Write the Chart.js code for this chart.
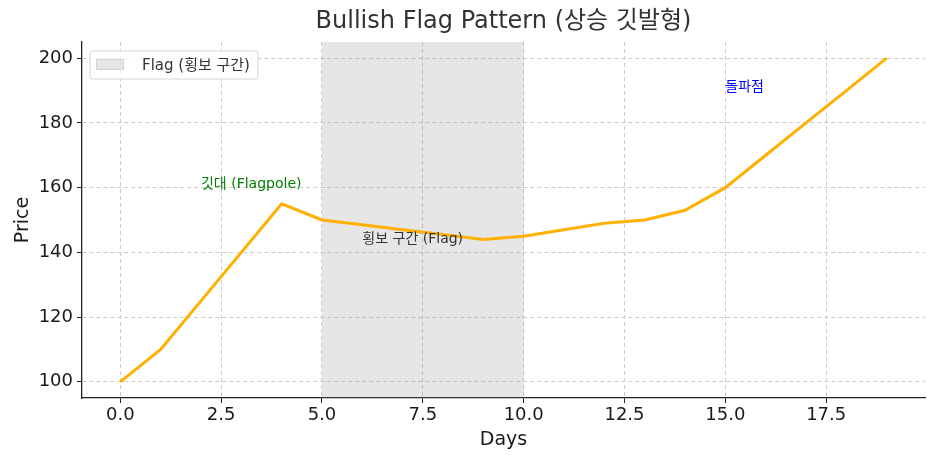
<!DOCTYPE html>
<html>
<head>
<meta charset="utf-8">
<script src="https://cdn.jsdelivr.net/npm/chart.js@4.4.1/dist/chart.umd.min.js"></script>
<style>
  html, body { margin: 0; padding: 0; background: #fff; }
  canvas { display: block; }
</style>
</head>
<body>
<canvas id="myChart" width="936" height="462"></canvas>
<script>
var FONT = "'DejaVu Sans', 'Noto Sans CJK KR', sans-serif";

// data
var days = [0, 1, 2, 3, 4, 5, 6, 7, 8, 9, 10, 11, 12, 13, 14, 15, 16, 17, 18, 19];
var prices = [100, 110, 125, 140, 155, 150, 148.5, 147, 145.5, 144, 145, 147, 149, 150, 153, 160, 170, 180, 190, 200];
var xTicks = [0, 2.5, 5, 7.5, 10, 12.5, 15, 17.5];
var yTicks = [100, 120, 140, 160, 180, 200];
var flagRange = [5, 10];
var legendLabel = 'Flag (횡보 구간)';

var noteTexts = ['깃대 (Flagpole)', '횡보 구간 (Flag)', '돌파점'];
var noteX = [2, 6, 15];
var noteY = [160, 143, 190];
var noteColors = ['#008000', '#333333', '#0000ff'];

var spanColor = 'rgba(128, 128, 128, 0.2)';

var flagSpan = {
    id: 'flagSpan',
    beforeDatasetsDraw: function (chart) {
        var c = chart.ctx, a = chart.chartArea, x = chart.scales.x;
        var x1 = x.getPixelForValue(flagRange[0]);
        var x2 = x.getPixelForValue(flagRange[1]);
        c.save();
        c.fillStyle = spanColor;
        c.fillRect(x1, a.top, x2 - x1, a.bottom - a.top);
        c.restore();
    }
};

var notes = {
    id: 'notes',
    afterDatasetsDraw: function (chart) {
        var c = chart.ctx, x = chart.scales.x, y = chart.scales.y;
        c.save();
        c.font = '14px ' + FONT;
        c.textAlign = 'left';
        c.textBaseline = 'alphabetic';
        for (var i = 0; i < noteTexts.length; i++) {
            c.fillStyle = noteColors[i];
            c.fillText(noteTexts[i], x.getPixelForValue(noteX[i]), y.getPixelForValue(noteY[i]));
        }
        c.restore();
    }
};

var legendBox = {
    id: 'legendBox',
    afterDraw: function (chart) {
        var c = chart.ctx, a = chart.chartArea;
        var left = a.left + 8, top = a.top + 9;
        c.save();
        c.font = '15px ' + FONT;
        var tw = c.measureText(legendLabel).width;
        var w = 52 + tw + 8, h = 28;
        // frame
        c.beginPath();
        c.roundRect(left, top, w, h, 3);
        c.fillStyle = 'rgba(255,255,255,0.8)';
        c.fill();
        c.strokeStyle = '#d6d6d6';
        c.lineWidth = 1;
        c.stroke();
        // patch
        c.fillStyle = spanColor;
        c.fillRect(left + 6, top + 8, 28, 11);
        c.strokeStyle = spanColor;
        c.strokeRect(left + 6.5, top + 8.5, 27, 10);
        // label
        c.fillStyle = '#333';
        c.textBaseline = 'middle';
        c.fillText(legendLabel, left + 52, top + h / 2 + 1);
        c.restore();
    }
};

var ctx = document.getElementById('myChart').getContext('2d');
var myChart = new Chart(ctx, {
    type: 'line',
    data: {
        datasets: [{
            data: days.map(function (d, i) { return { x: d, y: prices[i] }; }),
            borderColor: '#ffb000',
            borderWidth: 3,
            pointRadius: 0,
            tension: 0,
            fill: false
        }]
    },
    options: {
        responsive: false,
        animation: false,
        devicePixelRatio: 1,
        layout: { padding: { top: 0, right: 11, bottom: 0, left: 0 } },
        plugins: {
            legend: { display: false },
            tooltip: { enabled: false },
            title: {
                display: true,
                fullSize: false,
                text: 'Bullish Flag Pattern (상승 깃발형)',
                color: '#333',
                font: { family: FONT, size: 24, weight: 'normal' },
                padding: { top: 7, bottom: 6.2 }
            }
        },
        scales: {
            x: {
                type: 'linear',
                min: -0.95,
                max: 19.95,
                afterFit: function (s) { s.height = 64; },
                afterBuildTicks: function (s) { s.ticks = xTicks.map(function (v) { return { value: v }; }); },
                ticks: {
                    color: '#1a1a1a',
                    font: { family: FONT, size: 18 },
                    padding: 2,
                    callback: function (v) { return v.toFixed(1); }
                },
                grid: { color: '#cccccc', lineWidth: 1, tickColor: '#222', tickLength: 5, tickBorderDash: [] },
                border: { color: '#222', width: 1.3, dash: [4, 3] },
                title: { display: true, text: 'Days', color: '#1a1a1a', font: { family: FONT, size: 19 }, padding: { top: 0, bottom: 11 } }
            },
            y: {
                type: 'linear',
                min: 95,
                max: 205,
                afterFit: function (s) { s.width = 82; },
                afterBuildTicks: function (s) { s.ticks = yTicks.map(function (v) { return { value: v }; }); },
                ticks: {
                    color: '#1a1a1a',
                    font: { family: FONT, size: 18 },
                    padding: 4
                },
                grid: { color: '#cccccc', lineWidth: 1, tickColor: '#222', tickLength: 5, tickBorderDash: [] },
                border: { color: '#222', width: 1.3, dash: [4, 3] },
                title: { display: true, text: 'Price', color: '#1a1a1a', font: { family: FONT, size: 19 }, padding: 12 }
            }
        }
    },
    plugins: [flagSpan, notes, legendBox]
});
</script>
</body>
</html>
